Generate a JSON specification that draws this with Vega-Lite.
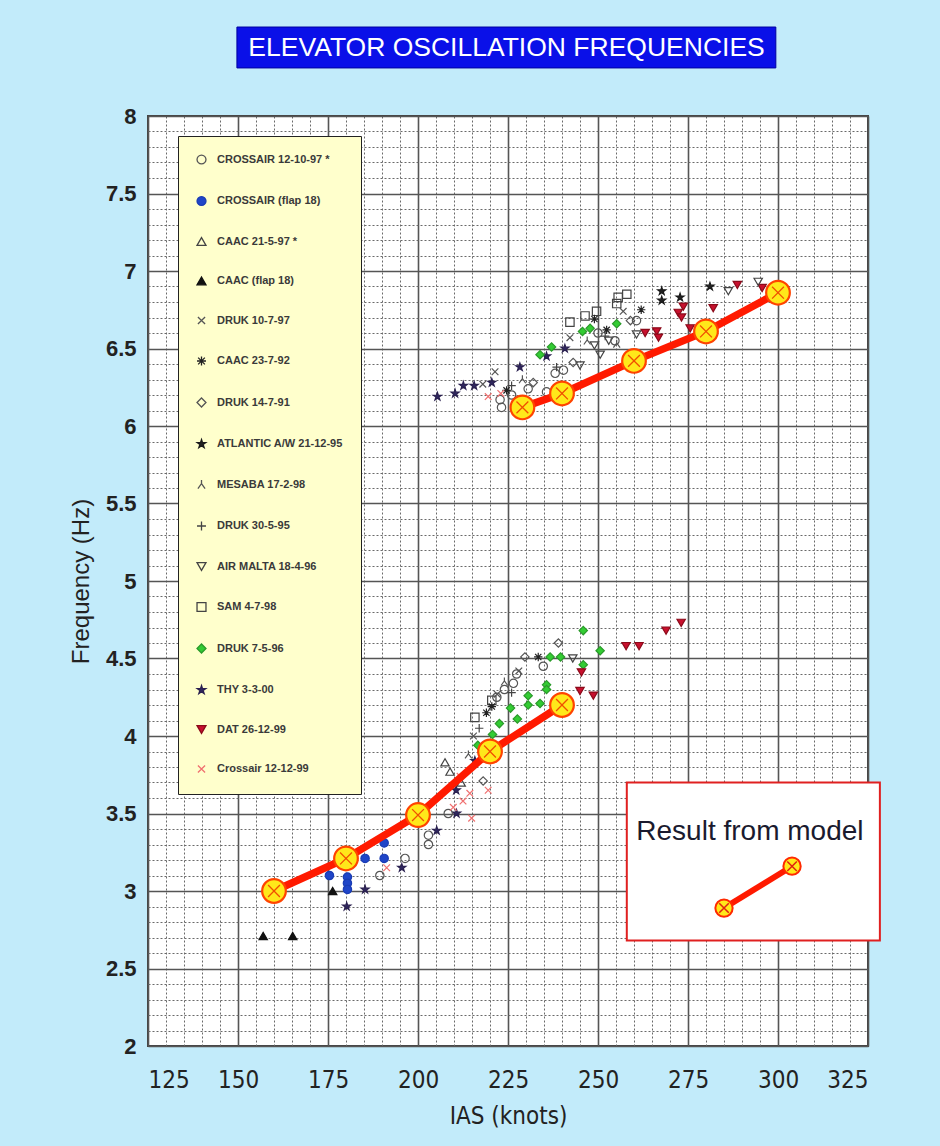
{
  "$schema": "https://vega.github.io/schema/vega-lite/v6.json",
  "width": 720,
  "height": 930,
  "autosize": {"type": "none"},
  "padding": {"left": 148, "top": 116, "right": 72, "bottom": 100},
  "background": "#c2ebfa",
  "config": {
    "font": "Liberation Sans",
    "view": {"fill": "white", "stroke": "#444", "strokeWidth": 2},
    "axis": {"domain": false, "ticks": false}
  },
  "datasets": {
    "obs": [
      {"series": "THY 3-3-00", "ias": 205.4, "freq": 6.19},
      {"series": "THY 3-3-00", "ias": 210.3, "freq": 6.21},
      {"series": "THY 3-3-00", "ias": 212.6, "freq": 6.26},
      {"series": "THY 3-3-00", "ias": 215.6, "freq": 6.26},
      {"series": "THY 3-3-00", "ias": 220.5, "freq": 6.28},
      {"series": "THY 3-3-00", "ias": 228.3, "freq": 6.38},
      {"series": "THY 3-3-00", "ias": 235.7, "freq": 6.45},
      {"series": "THY 3-3-00", "ias": 240.8, "freq": 6.5},
      {"series": "THY 3-3-00", "ias": 215.8, "freq": 3.84},
      {"series": "THY 3-3-00", "ias": 210.6, "freq": 3.65},
      {"series": "THY 3-3-00", "ias": 210.7, "freq": 3.5},
      {"series": "THY 3-3-00", "ias": 205.2, "freq": 3.39},
      {"series": "THY 3-3-00", "ias": 180.2, "freq": 2.9},
      {"series": "THY 3-3-00", "ias": 185.3, "freq": 3.01},
      {"series": "THY 3-3-00", "ias": 195.5, "freq": 3.15},
      {"series": "ATLANTIC A/W 21-12-95", "ias": 267.7, "freq": 6.87},
      {"series": "ATLANTIC A/W 21-12-95", "ias": 267.7, "freq": 6.81},
      {"series": "ATLANTIC A/W 21-12-95", "ias": 272.8, "freq": 6.83},
      {"series": "ATLANTIC A/W 21-12-95", "ias": 281.1, "freq": 6.9},
      {"series": "DRUK 7-5-96", "ias": 233.9, "freq": 6.46},
      {"series": "DRUK 7-5-96", "ias": 237.1, "freq": 6.51},
      {"series": "DRUK 7-5-96", "ias": 245.7, "freq": 6.61},
      {"series": "DRUK 7-5-96", "ias": 247.8, "freq": 6.63},
      {"series": "DRUK 7-5-96", "ias": 255.2, "freq": 6.66},
      {"series": "DRUK 7-5-96", "ias": 245.9, "freq": 4.68},
      {"series": "DRUK 7-5-96", "ias": 250.6, "freq": 4.55},
      {"series": "DRUK 7-5-96", "ias": 236.7, "freq": 4.51},
      {"series": "DRUK 7-5-96", "ias": 239.6, "freq": 4.51},
      {"series": "DRUK 7-5-96", "ias": 245.9, "freq": 4.46},
      {"series": "DRUK 7-5-96", "ias": 235.7, "freq": 4.33},
      {"series": "DRUK 7-5-96", "ias": 235.7, "freq": 4.3},
      {"series": "DRUK 7-5-96", "ias": 230.6, "freq": 4.26},
      {"series": "DRUK 7-5-96", "ias": 230.6, "freq": 4.2},
      {"series": "DRUK 7-5-96", "ias": 233.9, "freq": 4.21},
      {"series": "DRUK 7-5-96", "ias": 225.7, "freq": 4.18},
      {"series": "DRUK 7-5-96", "ias": 227.6, "freq": 4.11},
      {"series": "DRUK 7-5-96", "ias": 222.6, "freq": 4.08},
      {"series": "DRUK 7-5-96", "ias": 220.7, "freq": 4.01},
      {"series": "DRUK 7-5-96", "ias": 216.6, "freq": 3.94},
      {"series": "DAT 26-12-99", "ias": 263.1, "freq": 6.6},
      {"series": "DAT 26-12-99", "ias": 266.3, "freq": 6.61},
      {"series": "DAT 26-12-99", "ias": 266.8, "freq": 6.57},
      {"series": "DAT 26-12-99", "ias": 272.3, "freq": 6.73},
      {"series": "DAT 26-12-99", "ias": 273.7, "freq": 6.77},
      {"series": "DAT 26-12-99", "ias": 273.2, "freq": 6.7},
      {"series": "DAT 26-12-99", "ias": 275.6, "freq": 6.63},
      {"series": "DAT 26-12-99", "ias": 282.0, "freq": 6.76},
      {"series": "DAT 26-12-99", "ias": 288.7, "freq": 6.91},
      {"series": "DAT 26-12-99", "ias": 295.6, "freq": 6.89},
      {"series": "DAT 26-12-99", "ias": 245.4, "freq": 4.41},
      {"series": "DAT 26-12-99", "ias": 245.0, "freq": 4.29},
      {"series": "DAT 26-12-99", "ias": 248.7, "freq": 4.26},
      {"series": "DAT 26-12-99", "ias": 257.8, "freq": 4.58},
      {"series": "DAT 26-12-99", "ias": 261.4, "freq": 4.58},
      {"series": "DAT 26-12-99", "ias": 268.9, "freq": 4.68},
      {"series": "DAT 26-12-99", "ias": 273.1, "freq": 4.73},
      {"series": "SAM 4-7-98", "ias": 242.2, "freq": 6.67},
      {"series": "SAM 4-7-98", "ias": 246.4, "freq": 6.71},
      {"series": "SAM 4-7-98", "ias": 249.6, "freq": 6.74},
      {"series": "SAM 4-7-98", "ias": 255.2, "freq": 6.79},
      {"series": "SAM 4-7-98", "ias": 255.6, "freq": 6.83},
      {"series": "SAM 4-7-98", "ias": 258.0, "freq": 6.85},
      {"series": "SAM 4-7-98", "ias": 215.8, "freq": 4.12},
      {"series": "SAM 4-7-98", "ias": 220.5, "freq": 4.23},
      {"series": "AIR MALTA 18-4-96", "ias": 245.0, "freq": 6.39},
      {"series": "AIR MALTA 18-4-96", "ias": 250.6, "freq": 6.46},
      {"series": "AIR MALTA 18-4-96", "ias": 249.0, "freq": 6.52},
      {"series": "AIR MALTA 18-4-96", "ias": 253.0, "freq": 6.55},
      {"series": "AIR MALTA 18-4-96", "ias": 260.7, "freq": 6.59},
      {"series": "AIR MALTA 18-4-96", "ias": 286.2, "freq": 6.87},
      {"series": "AIR MALTA 18-4-96", "ias": 294.5, "freq": 6.93},
      {"series": "AIR MALTA 18-4-96", "ias": 243.0, "freq": 4.5},
      {"series": "CROSSAIR 12-10-97 *", "ias": 222.8, "freq": 6.17},
      {"series": "CROSSAIR 12-10-97 *", "ias": 223.2, "freq": 6.12},
      {"series": "CROSSAIR 12-10-97 *", "ias": 226.0, "freq": 6.2},
      {"series": "CROSSAIR 12-10-97 *", "ias": 230.6, "freq": 6.24},
      {"series": "CROSSAIR 12-10-97 *", "ias": 235.7, "freq": 6.22},
      {"series": "CROSSAIR 12-10-97 *", "ias": 238.1, "freq": 6.34},
      {"series": "CROSSAIR 12-10-97 *", "ias": 240.4, "freq": 6.36},
      {"series": "CROSSAIR 12-10-97 *", "ias": 250.0, "freq": 6.6},
      {"series": "CROSSAIR 12-10-97 *", "ias": 254.7, "freq": 6.55},
      {"series": "CROSSAIR 12-10-97 *", "ias": 260.7, "freq": 6.68},
      {"series": "CROSSAIR 12-10-97 *", "ias": 234.8, "freq": 4.45},
      {"series": "CROSSAIR 12-10-97 *", "ias": 227.4, "freq": 4.4},
      {"series": "CROSSAIR 12-10-97 *", "ias": 226.5, "freq": 4.34},
      {"series": "CROSSAIR 12-10-97 *", "ias": 224.0, "freq": 4.3},
      {"series": "CROSSAIR 12-10-97 *", "ias": 221.9, "freq": 4.25},
      {"series": "CROSSAIR 12-10-97 *", "ias": 208.4, "freq": 3.5},
      {"series": "CROSSAIR 12-10-97 *", "ias": 202.9, "freq": 3.3},
      {"series": "CROSSAIR 12-10-97 *", "ias": 189.4, "freq": 3.1},
      {"series": "CROSSAIR 12-10-97 *", "ias": 196.4, "freq": 3.21},
      {"series": "CROSSAIR 12-10-97 *", "ias": 202.9, "freq": 3.36},
      {"series": "DRUK 14-7-91", "ias": 243.1, "freq": 6.41},
      {"series": "DRUK 14-7-91", "ias": 259.0, "freq": 6.68},
      {"series": "DRUK 14-7-91", "ias": 232.0, "freq": 6.28},
      {"series": "DRUK 14-7-91", "ias": 239.0, "freq": 4.6},
      {"series": "DRUK 14-7-91", "ias": 229.7, "freq": 4.51},
      {"series": "DRUK 14-7-91", "ias": 218.1, "freq": 3.71},
      {"series": "DRUK 10-7-97", "ias": 221.4, "freq": 6.35},
      {"series": "DRUK 10-7-97", "ias": 242.2, "freq": 6.57},
      {"series": "DRUK 10-7-97", "ias": 218.0, "freq": 6.27},
      {"series": "DRUK 10-7-97", "ias": 257.0, "freq": 6.74},
      {"series": "DRUK 10-7-97", "ias": 215.4, "freq": 4.0},
      {"series": "DRUK 10-7-97", "ias": 222.0, "freq": 4.27},
      {"series": "DRUK 10-7-97", "ias": 228.0, "freq": 4.42},
      {"series": "CAAC 23-7-92", "ias": 252.4, "freq": 6.62},
      {"series": "CAAC 23-7-92", "ias": 224.6, "freq": 6.23},
      {"series": "CAAC 23-7-92", "ias": 249.0, "freq": 6.69},
      {"series": "CAAC 23-7-92", "ias": 262.0, "freq": 6.75},
      {"series": "CAAC 23-7-92", "ias": 220.5, "freq": 4.19},
      {"series": "CAAC 23-7-92", "ias": 233.4, "freq": 4.51},
      {"series": "CAAC 23-7-92", "ias": 219.0, "freq": 4.15},
      {"series": "Crossair 12-12-99", "ias": 219.5, "freq": 6.19},
      {"series": "Crossair 12-12-99", "ias": 223.0, "freq": 6.21},
      {"series": "Crossair 12-12-99", "ias": 211.7, "freq": 3.74},
      {"series": "Crossair 12-12-99", "ias": 214.4, "freq": 3.63},
      {"series": "Crossair 12-12-99", "ias": 214.9, "freq": 3.47},
      {"series": "Crossair 12-12-99", "ias": 219.5, "freq": 3.65},
      {"series": "Crossair 12-12-99", "ias": 209.8, "freq": 3.54},
      {"series": "Crossair 12-12-99", "ias": 212.5, "freq": 3.58},
      {"series": "Crossair 12-12-99", "ias": 191.3, "freq": 3.15},
      {"series": "MESABA 17-2-98", "ias": 255.2, "freq": 6.53},
      {"series": "MESABA 17-2-98", "ias": 247.0, "freq": 6.55},
      {"series": "MESABA 17-2-98", "ias": 229.0, "freq": 6.3},
      {"series": "MESABA 17-2-98", "ias": 214.0, "freq": 3.88},
      {"series": "MESABA 17-2-98", "ias": 224.0, "freq": 4.35},
      {"series": "DRUK 30-5-95", "ias": 238.5, "freq": 6.38},
      {"series": "DRUK 30-5-95", "ias": 252.0, "freq": 6.58},
      {"series": "DRUK 30-5-95", "ias": 226.0, "freq": 6.26},
      {"series": "DRUK 30-5-95", "ias": 226.0, "freq": 4.28},
      {"series": "DRUK 30-5-95", "ias": 217.0, "freq": 4.05},
      {"series": "CAAC 21-5-97 *", "ias": 207.5, "freq": 3.83},
      {"series": "CAAC 21-5-97 *", "ias": 208.9, "freq": 3.77},
      {"series": "CAAC 21-5-97 *", "ias": 212.0, "freq": 3.7},
      {"series": "CROSSAIR (flap 18)", "ias": 175.4, "freq": 3.1},
      {"series": "CROSSAIR (flap 18)", "ias": 180.4, "freq": 3.09},
      {"series": "CROSSAIR (flap 18)", "ias": 180.4, "freq": 3.05},
      {"series": "CROSSAIR (flap 18)", "ias": 180.4, "freq": 3.01},
      {"series": "CROSSAIR (flap 18)", "ias": 185.3, "freq": 3.21},
      {"series": "CROSSAIR (flap 18)", "ias": 190.6, "freq": 3.31},
      {"series": "CROSSAIR (flap 18)", "ias": 190.6, "freq": 3.21},
      {"series": "CAAC (flap 18)", "ias": 176.3, "freq": 3.0},
      {"series": "CAAC (flap 18)", "ias": 157.0, "freq": 2.71},
      {"series": "CAAC (flap 18)", "ias": 165.2, "freq": 2.71}
    ],
    "model": [
      {"seg": "lower", "ias": 160, "freq": 3.0},
      {"seg": "lower", "ias": 180, "freq": 3.21},
      {"seg": "lower", "ias": 200, "freq": 3.49},
      {"seg": "lower", "ias": 220, "freq": 3.9},
      {"seg": "lower", "ias": 240, "freq": 4.2},
      {"seg": "upper", "ias": 229, "freq": 6.12},
      {"seg": "upper", "ias": 240, "freq": 6.21},
      {"seg": "upper", "ias": 260, "freq": 6.42},
      {"seg": "upper", "ias": 280, "freq": 6.61},
      {"seg": "upper", "ias": 300, "freq": 6.86}
    ],
    "key": [
      {"ias": 285.0, "freq": 2.89},
      {"ias": 303.9, "freq": 3.16}
    ],
    "box": [{"x1": 258.0, "x2": 328.3, "y1": 2.68, "y2": 3.7, "label": "Result from model", "tx": 292.2, "ty": 3.38}],
    "head": [{"x1": 149.7, "x2": 299.4, "y1": 8.31, "y2": 8.574, "label": "ELEVATOR OSCILLATION FREQUENCIES", "tx": 224.6, "ty": 8.44}]
  },
  "layer": [
    {
      "data": {"name": "obs"},
      "mark": {"type": "point", "opacity": 1, "strokeWidth": 1.2, "size": 70},
      "encoding": {
        "x": {"field": "ias", "type": "quantitative",
          "scale": {"domain": [125, 325], "nice": false, "zero": false},
          "axis": {"orient": "bottom", "values": [130,135,140,145,155,160,165,170,180,185,190,195,205,210,215,220,230,235,240,245,255,260,265,270,280,285,290,295,305,310,315,320], "grid": true, "gridDash": [2, 2], "gridColor": "#6a6a6a", "gridWidth": 1, "labels": false, "title": null}},
        "y": {"field": "freq", "type": "quantitative",
          "scale": {"domain": [2, 8], "nice": false, "zero": false},
          "axis": {"orient": "left", "values": [2.1,2.2,2.3,2.4,2.6,2.7,2.8,2.9,3.1,3.2,3.3,3.4,3.6,3.7,3.8,3.9,4.1,4.2,4.3,4.4,4.6,4.7,4.8,4.9,5.1,5.2,5.3,5.4,5.6,5.7,5.8,5.9,6.1,6.2,6.3,6.4,6.6,6.7,6.8,6.9,7.1,7.2,7.3,7.4,7.6,7.7,7.8,7.9], "grid": true, "gridDash": [2, 2], "gridColor": "#6a6a6a", "gridWidth": 1, "labels": false, "title": null}},
        "shape": {"field": "series", "type": "nominal",
          "scale": {
            "domain": ["CROSSAIR 12-10-97 *","CROSSAIR (flap 18)","CAAC 21-5-97 *","CAAC (flap 18)","DRUK 10-7-97","CAAC 23-7-92","DRUK 14-7-91","ATLANTIC A/W 21-12-95","MESABA 17-2-98","DRUK 30-5-95","AIR MALTA 18-4-96","SAM 4-7-98","DRUK 7-5-96","THY 3-3-00","DAT 26-12-99","Crossair 12-12-99"],
            "range": ["circle","circle","triangle-up","triangle-up","M-0.8,-0.8L0.8,0.8M-0.8,0.8L0.8,-0.8","M-0.75,-0.75L0.75,0.75M-0.75,0.75L0.75,-0.75M0,-1L0,1M-1,0L1,0","diamond","M0,-1L0.2245,-0.309L0.951,-0.309L0.363,0.118L0.588,0.809L0,0.382L-0.588,0.809L-0.363,0.118L-0.951,-0.309L-0.2245,-0.309Z","M0,-1L0,-0.2L-0.8,0.9M0,-0.2L0.8,0.9","M-1,0L1,0M0,-1L0,1","triangle-down","square","diamond","M0,-1L0.2245,-0.309L0.951,-0.309L0.363,0.118L0.588,0.809L0,0.382L-0.588,0.809L-0.363,0.118L-0.951,-0.309L-0.2245,-0.309Z","triangle-down","M-0.8,-0.8L0.8,0.8M-0.8,0.8L0.8,-0.8"]
          },
          "legend": {"title": null, "orient": "none", "legendX": 30, "legendY": 20, "fillColor": "#ffffcc", "strokeColor": "#222", "padding": 18, "rowPadding": 26.5, "labelFont": "Liberation Sans", "labelFontSize": 11, "labelFontWeight": "bold", "labelColor": "#3a3a3a", "labelOffset": 10, "symbolSize": 80, "symbolStrokeWidth": 1.3, "labelLimit": 200}
        },
        "stroke": {"field": "series", "type": "nominal",
          "scale": {
            "domain": ["CROSSAIR 12-10-97 *","CROSSAIR (flap 18)","CAAC 21-5-97 *","CAAC (flap 18)","DRUK 10-7-97","CAAC 23-7-92","DRUK 14-7-91","ATLANTIC A/W 21-12-95","MESABA 17-2-98","DRUK 30-5-95","AIR MALTA 18-4-96","SAM 4-7-98","DRUK 7-5-96","THY 3-3-00","DAT 26-12-99","Crossair 12-12-99"],
            "range": ["#555555","#1a3cb4","#444444","#111111","#555555","#222222","#555555","#1a1a1a","#555555","#444444","#444444","#444444","#2a9a2a","#2a2050","#8b0a1a","#f07070"]
          },
          "legend": {"title": null, "orient": "none", "legendX": 30, "legendY": 20, "fillColor": "#ffffcc", "strokeColor": "#222", "padding": 18, "rowPadding": 26.5, "labelFont": "Liberation Sans", "labelFontSize": 11, "labelFontWeight": "bold", "labelColor": "#3a3a3a", "labelOffset": 10, "symbolSize": 80, "symbolStrokeWidth": 1.3, "labelLimit": 200}
        },
        "fill": {"field": "series", "type": "nominal",
          "scale": {
            "domain": ["CROSSAIR 12-10-97 *","CROSSAIR (flap 18)","CAAC 21-5-97 *","CAAC (flap 18)","DRUK 10-7-97","CAAC 23-7-92","DRUK 14-7-91","ATLANTIC A/W 21-12-95","MESABA 17-2-98","DRUK 30-5-95","AIR MALTA 18-4-96","SAM 4-7-98","DRUK 7-5-96","THY 3-3-00","DAT 26-12-99","Crossair 12-12-99"],
            "range": ["transparent","#1f45c8","transparent","#111111","transparent","#444444","transparent","#222222","transparent","transparent","transparent","transparent","#33cc33","#2f2760","#c8102e","transparent"]
          },
          "legend": {"title": null, "orient": "none", "legendX": 30, "legendY": 20, "fillColor": "#ffffcc", "strokeColor": "#222", "padding": 18, "rowPadding": 26.5, "labelFont": "Liberation Sans", "labelFontSize": 11, "labelFontWeight": "bold", "labelColor": "#3a3a3a", "labelOffset": 10, "symbolSize": 80, "symbolStrokeWidth": 1.3, "labelLimit": 200}
        }
      }
    },
    {
      "data": {"name": "model"},
      "mark": {"type": "line", "color": "#ff1a00", "strokeWidth": 7.5},
      "encoding": {
        "x": {"field": "ias", "type": "quantitative",
          "scale": {"domain": [125, 325], "nice": false, "zero": false},
          "axis": {"orient": "bottom", "values": [125,150,175,200,225,250,275,300,325], "grid": true, "gridColor": "#555", "gridWidth": 1.6, "labelFont": "DejaVu Sans Condensed, Liberation Sans", "labelFontSize": 24, "labelColor": "#222", "labelPadding": 22, "title": "IAS (knots)", "titleFont": "DejaVu Sans Condensed, Liberation Sans", "titleFontSize": 24, "titleFontWeight": "normal", "titleColor": "#222", "titlePadding": 12}},
        "y": {"field": "freq", "type": "quantitative",
          "scale": {"domain": [2, 8], "nice": false, "zero": false},
          "axis": {"orient": "left", "format": "~g", "values": [2,2.5,3,3.5,4,4.5,5,5.5,6,6.5,7,7.5,8], "grid": true, "gridColor": "#555", "gridWidth": 1.6, "labelFont": "Liberation Sans", "labelFontSize": 22, "labelFontWeight": "bold", "labelColor": "#222", "labelPadding": 12, "title": "Frequency (Hz)", "titleFont": "Liberation Sans", "titleFontSize": 24, "titleFontWeight": "normal", "titleColor": "#222", "titlePadding": 12}},
        "detail": {"field": "seg", "type": "nominal"}
      }
    },
    {
      "data": {"name": "model"},
      "mark": {"type": "point", "shape": "circle", "size": 560, "filled": true, "fill": "#ffe81a", "stroke": "#ff4400", "strokeWidth": 2.2, "opacity": 1},
      "encoding": {
        "x": {"field": "ias", "type": "quantitative", "scale": {"domain": [125, 325], "nice": false, "zero": false}, "axis": null},
        "y": {"field": "freq", "type": "quantitative", "scale": {"domain": [2, 8], "nice": false, "zero": false}, "axis": null}
      }
    },
    {
      "data": {"name": "model"},
      "mark": {"type": "point", "shape": "M-0.5,-0.5L0.5,0.5M-0.5,0.5L0.5,-0.5", "size": 560, "filled": false, "stroke": "#f05000", "strokeWidth": 1.3, "opacity": 1},
      "encoding": {
        "x": {"field": "ias", "type": "quantitative", "scale": {"domain": [125, 325], "nice": false, "zero": false}, "axis": null},
        "y": {"field": "freq", "type": "quantitative", "scale": {"domain": [2, 8], "nice": false, "zero": false}, "axis": null}
      }
    },
    {
      "data": {"name": "box"},
      "mark": {"type": "rect", "fill": "white", "stroke": "#e02020", "strokeWidth": 2},
      "encoding": {
        "x": {"field": "x1", "type": "quantitative", "scale": {"domain": [125, 325], "nice": false, "zero": false}, "axis": null},
        "x2": {"field": "x2"},
        "y": {"field": "y1", "type": "quantitative", "scale": {"domain": [2, 8], "nice": false, "zero": false}, "axis": null},
        "y2": {"field": "y2"}
      }
    },
    {
      "data": {"name": "box"},
      "mark": {"type": "text", "font": "Liberation Sans", "fontSize": 28, "color": "#1a1a2e", "align": "center", "baseline": "middle"},
      "encoding": {
        "x": {"field": "tx", "type": "quantitative", "scale": {"domain": [125, 325], "nice": false, "zero": false}, "axis": null},
        "y": {"field": "ty", "type": "quantitative", "scale": {"domain": [2, 8], "nice": false, "zero": false}, "axis": null},
        "text": {"field": "label"}
      }
    },
    {
      "data": {"name": "key"},
      "mark": {"type": "line", "color": "#ff1a00", "strokeWidth": 6},
      "encoding": {
        "x": {"field": "ias", "type": "quantitative", "scale": {"domain": [125, 325], "nice": false, "zero": false}, "axis": null},
        "y": {"field": "freq", "type": "quantitative", "scale": {"domain": [2, 8], "nice": false, "zero": false}, "axis": null}
      }
    },
    {
      "data": {"name": "key"},
      "mark": {"type": "point", "shape": "circle", "size": 300, "filled": true, "fill": "#ffe81a", "stroke": "#ff2a00", "strokeWidth": 2, "opacity": 1},
      "encoding": {
        "x": {"field": "ias", "type": "quantitative", "scale": {"domain": [125, 325], "nice": false, "zero": false}, "axis": null},
        "y": {"field": "freq", "type": "quantitative", "scale": {"domain": [2, 8], "nice": false, "zero": false}, "axis": null}
      }
    },
    {
      "data": {"name": "key"},
      "mark": {"type": "point", "shape": "M-0.55,-0.55L0.55,0.55M-0.55,0.55L0.55,-0.55", "size": 300, "filled": false, "stroke": "#e02010", "strokeWidth": 1.5, "opacity": 1},
      "encoding": {
        "x": {"field": "ias", "type": "quantitative", "scale": {"domain": [125, 325], "nice": false, "zero": false}, "axis": null},
        "y": {"field": "freq", "type": "quantitative", "scale": {"domain": [2, 8], "nice": false, "zero": false}, "axis": null}
      }
    },
    {
      "data": {"name": "head"},
      "mark": {"type": "rect", "fill": "#0a10e8", "stroke": "#0000a0", "strokeWidth": 1},
      "encoding": {
        "x": {"field": "x1", "type": "quantitative", "scale": {"domain": [125, 325], "nice": false, "zero": false}, "axis": null},
        "x2": {"field": "x2"},
        "y": {"field": "y1", "type": "quantitative", "scale": {"domain": [2, 8], "nice": false, "zero": false}, "axis": null},
        "y2": {"field": "y2"}
      }
    },
    {
      "data": {"name": "head"},
      "mark": {"type": "text", "font": "Liberation Sans", "fontSize": 26.5, "color": "white", "align": "center", "baseline": "middle"},
      "encoding": {
        "x": {"field": "tx", "type": "quantitative", "scale": {"domain": [125, 325], "nice": false, "zero": false}, "axis": null},
        "y": {"field": "ty", "type": "quantitative", "scale": {"domain": [2, 8], "nice": false, "zero": false}, "axis": null},
        "text": {"field": "label"}
      }
    }
  ],
  "resolve": {"axis": {"x": "independent", "y": "independent"}}
}
